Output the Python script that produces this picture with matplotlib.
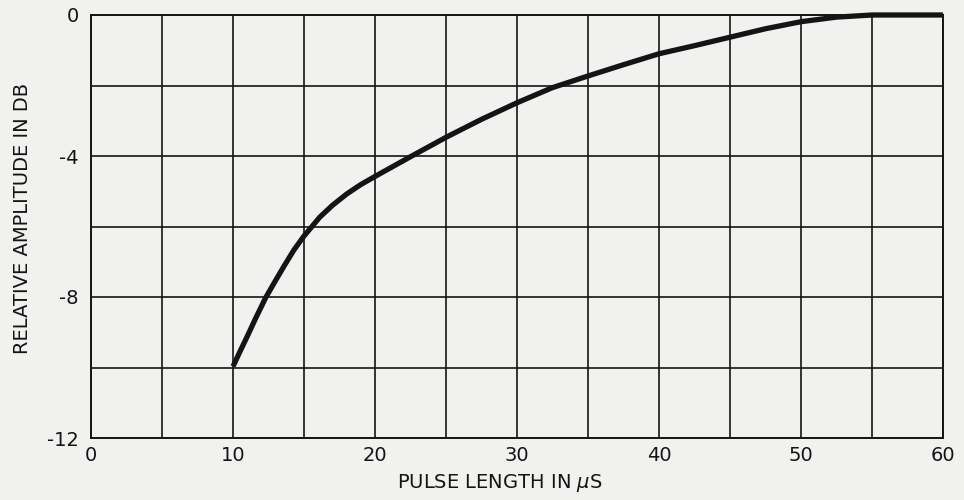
import matplotlib
matplotlib.use("Agg")
import matplotlib.pyplot as plt
from matplotlib.ticker import FixedLocator

# Relative amplitude versus pulse length
pulse_us = [10, 10.5, 11, 11.6, 12.3, 12.9, 13.6, 14.3, 15, 15.5, 16.1, 17,
            18, 19, 20, 22.5, 25, 27.5, 30, 32.5, 35, 37.5, 40, 42.5, 45,
            47.5, 50, 52.5, 55, 60]
amp_db = [-9.97, -9.54, -9.12, -8.6, -8.02, -7.6, -7.12, -6.66, -6.27, -6.03,
          -5.74, -5.40, -5.08, -4.81, -4.58, -4.02, -3.47, -2.96, -2.49, -2.06,
          -1.73, -1.41, -1.1, -0.87, -0.63, -0.39, -0.19, -0.06, 0.0, 0.0]

x_major = [0, 10, 20, 30, 40, 50, 60]
x_minor = [5, 15, 25, 35, 45, 55]
x_labels = ["0", "10", "20", "30", "40", "50", "60"]
y_major = [0, -4, -8, -12]
y_minor = [-2, -6, -10]
y_labels = ["0", "-4", "-8", "-12"]

ink = "#141414"
paper = "#f1f1f0"

plt.rcParams["font.family"] = ["DejaVu Sans"]

fig = plt.figure(figsize=(9.64, 5.0), dpi=100, facecolor=paper)
ax = fig.add_axes([0.0944, 0.124, 0.8838, 0.846])
ax.set_facecolor(paper)

ax.set_xlim(0, 60)
ax.set_ylim(-12, 0)

ax.xaxis.set_major_locator(FixedLocator(x_major))
ax.xaxis.set_minor_locator(FixedLocator(x_minor))
ax.yaxis.set_major_locator(FixedLocator(y_major))
ax.yaxis.set_minor_locator(FixedLocator(y_minor))
ax.set_xticklabels(x_labels)
ax.set_yticklabels(y_labels)

ax.grid(True, which="both", color=ink, linewidth=1.2)
ax.set_axisbelow(True)
for s in ax.spines.values():
    s.set_color(ink)
    s.set_linewidth(1.4)

ax.tick_params(axis="both", which="both", length=0, colors=ink, labelsize=14)
ax.tick_params(axis="x", pad=6)
ax.tick_params(axis="y", pad=9)

ax.plot(pulse_us, amp_db, color=ink, linewidth=3.8, solid_capstyle="butt",
        solid_joinstyle="round", clip_on=False, zorder=5)

ax.set_xlabel(r"PULSE LENGTH IN $\mu$S", fontsize=14, color=ink)
ax.set_ylabel("RELATIVE AMPLITUDE IN DB", fontsize=14, color=ink)
ax.xaxis.set_label_coords(0.48, -0.08)
ax.yaxis.set_label_coords(-0.069, 0.518)

fig.savefig("out.png", dpi=100, facecolor=paper)
